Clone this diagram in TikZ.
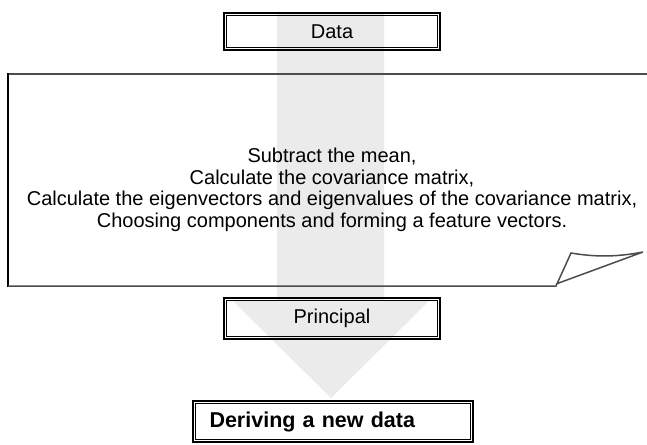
\documentclass[tikz,border=0pt]{standalone}
\usepackage{fontspec}
\setmainfont{Liberation Sans}

\begin{document}
\begin{tikzpicture}[x=1pt, y=-1pt,
	every node/.style={font=\fontsize{20}{21.5}\selectfont, align=center},
	frame/.style={draw, line width=2pt, inner sep=0pt},
	sheet/.style={draw=gray!60!black, line width=1.5pt}]
	\useasboundingbox (0,0) rectangle (647,444);

	% wide grey arrow running behind the steps
	\fill[gray!16] (277,12) -- (384,12) -- (384,300) -- (430,300) -- (331,398) -- (232,300) -- (277,300) -- cycle;

	\node[frame, minimum width=216pt, minimum height=37pt] (data) at (332,31.5) {Data};
	\node (steps) at (332,190) {Subtract the mean,\\Calculate the covariance matrix,\\Calculate the eigenvectors and eigenvalues of the covariance matrix,\\Choosing components and forming a feature vectors.};
	\node[frame, minimum width=216pt, minimum height=41pt] (principal) at (332,318.5) {Principal};
	\node[frame, minimum height=41pt, inner xsep=17pt, text width=246pt, align=left, font=\fontsize{21.5}{24}\selectfont\bfseries] (derive) at (332.5,421.5) {Deriving a new data};

	% inner thin line of the double frames
	\foreach \n in {data,principal,derive}
		\draw[line width=0.8pt] ([xshift=3.5pt,yshift=-3.5pt]\n.north west) rectangle ([xshift=-3.5pt,yshift=3.5pt]\n.south east);

	% sheet with a curled corner round the steps
	\draw[sheet] (647,74) -- (8,74);
	\draw[line width=2pt] (8,73) -- (8,287);
	\draw[sheet] (8,286) -- (556,286) -- (571,253) .. controls (600,258) and (622,256) .. (643,252) -- (556,284);
\end{tikzpicture}
\end{document}
